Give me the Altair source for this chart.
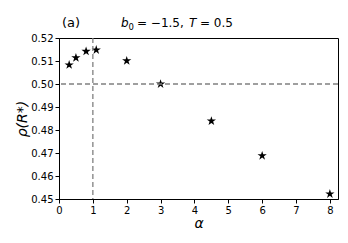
import altair as alt
import pandas as pd

alpha = [0.3, 0.5, 0.8, 1.1, 2.0, 3.0, 4.5, 6.0, 8.0]
rho = [0.5083, 0.5114, 0.5142, 0.5148, 0.5101, 0.5000, 0.4839, 0.4688, 0.4522]
x_ticks = [0, 1, 2, 3, 4, 5, 6, 7, 8]
y_ticks = [0.45, 0.46, 0.47, 0.48, 0.49, 0.50, 0.51, 0.52]
h_ref = [0.5]
v_ref = [1.0]

df = pd.DataFrame({"alpha": alpha, "rho": rho})

STAR = ("M0,-1L0.2245,-0.309L0.951,-0.309L0.363,0.118L0.588,0.809L0,0.382"
        "L-0.588,0.809L-0.363,0.118L-0.951,-0.309L-0.2245,-0.309Z")

xscale = alt.Scale(domain=[0, 8.24], nice=False, zero=False)
yscale = alt.Scale(domain=[0.45, 0.52], nice=False, zero=False)

FONT = "DejaVu Sans"

xaxis = alt.Axis(title="α", values=x_ticks, format="d", grid=False,
                 labelOverlap=False, labelFlush=False,
                 titleFontStyle="italic", titleFontWeight="normal",
                 titleFontSize=14, titlePadding=1)
yaxis = alt.Axis(title="ρ(R*)", values=y_ticks, format=".2f", grid=False,
                 labelOverlap=False, labelFlush=False,
                 titleFontStyle="italic", titleFontWeight="normal",
                 titleFontSize=14, titlePadding=1)

points = alt.Chart(df).mark_point(
    shape=STAR, filled=True, color="black", size=95, opacity=1
).encode(
    x=alt.X("alpha:Q", scale=xscale, axis=xaxis),
    y=alt.Y("rho:Q", scale=yscale, axis=yaxis),
)

hline = alt.Chart(pd.DataFrame({"rho": h_ref})).mark_rule(
    color="#808080", strokeDash=[5, 3], strokeWidth=1.3
).encode(y=alt.Y("rho:Q", scale=yscale, axis=yaxis))

vline = alt.Chart(pd.DataFrame({"alpha": v_ref})).mark_rule(
    color="#808080", strokeDash=[5, 3], strokeWidth=1.3
).encode(x=alt.X("alpha:Q", scale=xscale, axis=xaxis))

label_a = alt.Chart(pd.DataFrame({"t": ["(a)"]})).mark_text(
    font=FONT, fontSize=13, align="left", baseline="alphabetic", color="black"
).encode(text="t:N", x=alt.value(3), y=alt.value(-11))

title_b = alt.Chart(pd.DataFrame({"t": ["b"]})).mark_text(
    font=FONT, fontSize=12, fontStyle="italic", align="left", baseline="alphabetic", color="black"
).encode(text="t:N", x=alt.value(62), y=alt.value(-11))
title_0 = alt.Chart(pd.DataFrame({"t": ["0"]})).mark_text(
    font=FONT, fontSize=8.5, align="left", baseline="alphabetic", color="black"
).encode(text="t:N", x=alt.value(69.5), y=alt.value(-8))
title_rest1 = alt.Chart(pd.DataFrame({"t": ["= −1.5,"]})).mark_text(
    font=FONT, fontSize=12, align="left", baseline="alphabetic", color="black"
).encode(text="t:N", x=alt.value(78), y=alt.value(-11))
title_T = alt.Chart(pd.DataFrame({"t": ["T"]})).mark_text(
    font=FONT, fontSize=12, fontStyle="italic", align="left", baseline="alphabetic", color="black"
).encode(text="t:N", x=alt.value(130), y=alt.value(-11))
title_rest2 = alt.Chart(pd.DataFrame({"t": ["= 0.5"]})).mark_text(
    font=FONT, fontSize=12, align="left", baseline="alphabetic", color="black"
).encode(text="t:N", x=alt.value(141), y=alt.value(-11))

chart = alt.layer(
    points, hline, vline, label_a, title_b, title_0, title_rest1, title_T, title_rest2
).properties(
    width=279, height=161,
    autosize=alt.AutoSizeParams(type="none"),
    padding={"left": 51, "top": 30, "right": 2, "bottom": 36},
).configure_view(
    stroke="black", strokeWidth=1
).configure_axis(
    labelFont=FONT, titleFont=FONT, labelFontSize=10, labelColor="black",
    titleColor="black", domainColor="black", tickColor="black", tickSize=4,
    labelPadding=2, domainWidth=1
)

chart.save("out.html", embed_options={"renderer": "svg", "actions": False})
